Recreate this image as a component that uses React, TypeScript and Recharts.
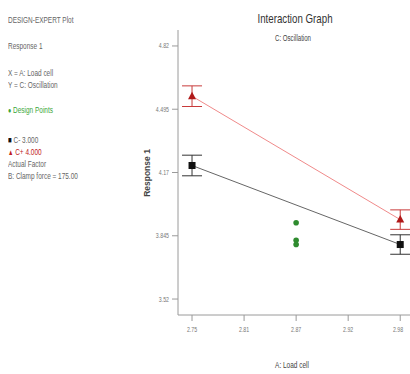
import React from 'react';
import { ComposedChart, Line, Scatter, XAxis, YAxis, ErrorBar } from 'recharts';

const X_TICKS = [2.75, 2.8075, 2.865, 2.9225, 2.98];
const X_TICK_LABELS = ['2.75', '2.81', '2.87', '2.92', '2.98'];
const Y_TICKS = [3.52, 3.845, 4.17, 4.495, 4.82];
const Y_TICK_LABELS = ['3.52', '3.845', '4.17', '4.495', '4.82'];

const LOAD_CELL = [2.75, 2.98];
const C_LOW = [4.206, 3.8];
const C_HIGH = [4.562, 3.928];
const LSD = [0.053, 0.05];

const DESIGN_X = [2.865, 2.865, 2.865];
const DESIGN_Y = [3.912, 3.822, 3.8];

const lowData = LOAD_CELL.map((x, i) => ({ x, y: C_LOW[i], err: LSD[i] }));
const highData = LOAD_CELL.map((x, i) => ({ x, y: C_HIGH[i], err: LSD[i] }));
const designData = DESIGN_X.map((x, i) => ({ x, y: DESIGN_Y[i] }));

const FONT = '"Liberation Sans", Arial, sans-serif';
const AXIS = '#9a9a9a';

function Square(props: any) {
  const { cx, cy } = props;
  if (cx == null || cy == null) return null;
  return <rect x={cx - 3.5} y={cy - 3.5} width={7} height={7} fill="#111" />;
}

function Triangle(props: any) {
  const { cx, cy } = props;
  if (cx == null || cy == null) return null;
  return <polygon points={`${cx},${cy - 4.5} ${cx - 4},${cy + 3} ${cx + 4},${cy + 3}`} fill="#b01818" />;
}

// narrow tick text, the plot uses a condensed face
function XTick(props: any) {
  const { x, y, payload } = props;
  const label = X_TICK_LABELS[X_TICKS.indexOf(payload.value)] ?? '';
  return (
    <text x={0} y={0} transform={`translate(${x},${y + 9}) scale(0.7,1)`} textAnchor="middle" fontSize={7.5} fill="#777" fontFamily={FONT}>
      {label}
    </text>
  );
}

function YTick(props: any) {
  const { x, y, payload } = props;
  const label = Y_TICK_LABELS[Y_TICKS.indexOf(payload.value)] ?? '';
  return (
    <text x={0} y={0} transform={`translate(${x - 1},${y + 2.5}) scale(0.7,1)`} textAnchor="end" fontSize={7.5} fill="#777" fontFamily={FONT}>
      {label}
    </text>
  );
}

const txt = (top: number, left: number, extra: React.CSSProperties = {}): React.CSSProperties => ({
  position: 'absolute', top, left, fontSize: 9.5, color: '#666', fontFamily: FONT, whiteSpace: 'nowrap', lineHeight: 1,
  transform: 'scaleX(0.68)', transformOrigin: '0 0', ...extra,
});

export default function App() {
  return (
    <div style={{ position: 'absolute', left: 0, top: 0, width: 410, height: 374, background: '#fff', overflow: 'hidden' }}>
      <div style={txt(15, 8)}>DESIGN-EXPERT Plot</div>
      <div style={txt(41, 8)}>Response 1</div>
      <div style={txt(68, 8)}>X = A: Load cell</div>
      <div style={txt(80, 8)}>Y = C: Oscillation</div>
      <div style={txt(105, 8, { color: '#3aa63a' })}><span style={{ fontSize: 8 }}>●</span> Design Points</div>
      <div style={txt(135, 8)}><span style={{ color: '#111', fontSize: 9 }}>■</span> C- 3.000</div>
      <div style={txt(147, 8, { color: '#c02020' })}><span style={{ fontSize: 8 }}>▲</span> C+ 4.000</div>
      <div style={txt(159, 8)}>Actual Factor</div>
      <div style={txt(171, 8)}>B: Clamp force = 175.00</div>

      <div style={txt(12, 295, { fontSize: 13.5, color: '#333', transform: 'translateX(-50%) scaleX(0.72)', transformOrigin: '50% 0' })}>Interaction Graph</div>
      <div style={txt(34, 293, { fontSize: 8.5, color: '#444', transform: 'translateX(-50%) scaleX(0.72)', transformOrigin: '50% 0' })}>C: Oscillation</div>
      <div style={txt(173, 147, { fontSize: 8.5, color: '#444', fontWeight: 'bold', transform: 'translate(-50%, -50%) rotate(-90deg)', transformOrigin: '50% 50%' })}>Response 1</div>
      <div style={txt(361, 292, { fontSize: 9, color: '#444', transform: 'translateX(-50%) scaleX(0.72)', transformOrigin: '50% 0' })}>A: Load cell</div>

      <ComposedChart width={412} height={374} margin={{ top: 30, right: 0, bottom: 0, left: 138 }}>
        <XAxis
          xAxisId="b"
          dataKey="x"
          type="number"
          domain={[2.7345, 2.993]}
          ticks={X_TICKS}
          allowDataOverflow
          height={59}
          tick={<XTick />}
          tickSize={6}
          stroke={AXIS}
        />
        <XAxis xAxisId="t" dataKey="x" type="number" orientation="top" domain={[2.7345, 2.993]} height={0} tick={false} tickLine={false} stroke={AXIS} />
        <YAxis
          yAxisId="l"
          type="number"
          domain={[3.438, 4.902]}
          ticks={Y_TICKS}
          allowDataOverflow
          width={40}
          tick={<YTick />}
          tickSize={6}
          stroke={AXIS}
        />
        <Line
          xAxisId="b"
          yAxisId="l"
          data={lowData}
          dataKey="y"
          stroke="#666"
          strokeWidth={1}
          dot={<Square />}
          activeDot={false}
          isAnimationActive={false}
        >
          <ErrorBar dataKey="err" direction="y" width={10} stroke="#333" strokeWidth={1} />
        </Line>
        <Line
          xAxisId="b"
          yAxisId="l"
          data={highData}
          dataKey="y"
          stroke="#f08a8a"
          strokeWidth={1}
          dot={<Triangle />}
          activeDot={false}
          isAnimationActive={false}
        >
          <ErrorBar dataKey="err" direction="y" width={10} stroke="#c83a3a" strokeWidth={1} />
        </Line>
        <Scatter
          xAxisId="b"
          yAxisId="l"
          data={designData}
          dataKey="y"
          fill="#2e8b2e"
          shape={(p: any) => <circle cx={p.cx} cy={p.cy} r={2.8} fill="#2e8b2e" />}
          isAnimationActive={false}
        />
      </ComposedChart>
    </div>
  );
}
